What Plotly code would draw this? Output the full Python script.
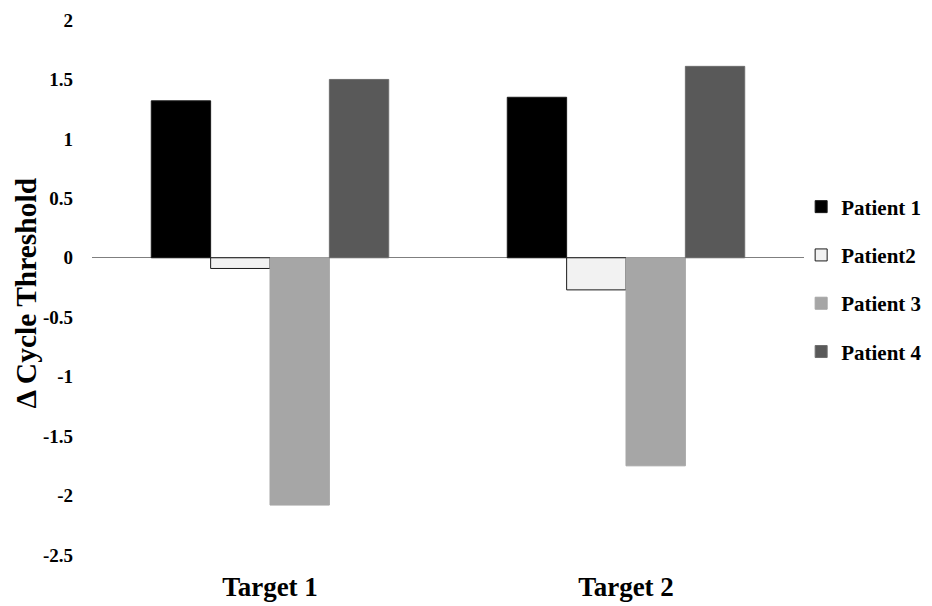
import plotly.graph_objects as go

categories = ["Target 1", "Target 2"]
series_names = ["Patient 1", "Patient2", "Patient 3", "Patient 4"]
patient1 = [1.32, 1.35]
patient2 = [-0.09, -0.27]
patient3 = [-2.08, -1.75]
patient4 = [1.50, 1.61]
values = [patient1, patient2, patient3, patient4]

fills = ["#000000", "#f2f2f2", "#a6a6a6", "#595959"]
lines = ["#1a1a1a", "#1a1a1a", "#a6a6a6", "#6e6e6e"]

y_ticks = [2, 1.5, 1, 0.5, 0, -0.5, -1, -1.5, -2, -2.5]
y_ticktext = ["2", "1.5", "1", "0.5", "0", "-0.5", "-1", "-1.5", "-2", "-2.5"]

FONT = "Liberation Serif"

fig = go.Figure()
for name, vals, fc, lc in zip(series_names, values, fills, lines):
    fig.add_trace(go.Bar(
        x=categories, y=vals, name=name, legendgroup=name,
        marker=dict(color=fc, line=dict(color=lc, width=1)),
    ))

# page body adds an 8px offset; figure is sized to fill the remaining window
fig.update_layout(
    width=924, height=598,
    margin=dict(l=84, r=128, t=12, b=51, autoexpand=False),
    paper_bgcolor="white", plot_bgcolor="white",
    barmode="group", bargap=0.333, bargroupgap=0,
    font=dict(family=FONT, color="black"),
    showlegend=True,
    legend=dict(
        x=0.996, xanchor="left", y=0.515, yanchor="middle",
        font=dict(family=FONT, size=21, color="black", weight="bold"),
        tracegroupgap=18, traceorder="grouped",
        bgcolor="rgba(0,0,0,0)",
    ),
    xaxis=dict(
        showline=False, showgrid=False, zeroline=False, ticks="",
        automargin=False,
        tickfont=dict(family=FONT, size=27, color="black", weight="bold"),
        ticklabelstandoff=13,
    ),
    yaxis=dict(
        range=[-2.5, 2], showline=False, showgrid=False,
        automargin=False,
        zeroline=True, zerolinecolor="#7f7f7f", zerolinewidth=1.3,
        tickvals=y_ticks, ticktext=y_ticktext, ticks="",
        tickfont=dict(family=FONT, size=19, color="black", weight="bold"),
        ticklabelstandoff=18,
    ),
    annotations=[dict(
        text="Δ Cycle Threshold", textangle=-90,
        xref="paper", yref="paper", x=-84 / 712, y=0.489,
        xanchor="left", yanchor="middle", showarrow=False,
        font=dict(family=FONT, size=29.5, color="black", weight="bold"),
    )],
)

fig.write_html("out.html")
